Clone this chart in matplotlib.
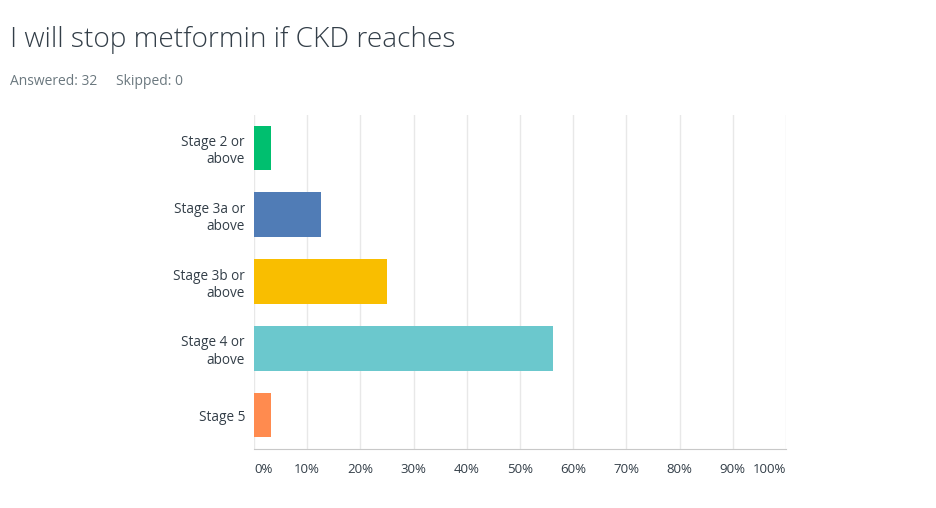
import matplotlib
matplotlib.use('Agg')
import matplotlib.pyplot as plt

# survey answers (share of 32 respondents)
categories = ['Stage 2 or\nabove', 'Stage 3a or\nabove', 'Stage 3b or\nabove',
              'Stage 4 or\nabove', 'Stage 5']
percent = [3.13, 12.5, 25.0, 56.25, 3.13]
colors = ['#00BF6F', '#507CB6', '#F9BE00', '#6BC8CD', '#FF8B4F']
ticks = [0, 10, 20, 30, 40, 50, 60, 70, 80, 90, 100]
tick_labels = [f'{t}%' for t in ticks]

plt.rcParams['font.family'] = ['Open Sans', 'DejaVu Sans']

fig = plt.figure(figsize=(9.36, 5.08), dpi=100)
ax = fig.add_axes([0.2714, 0.1171, 0.5683, 0.6575])

y = list(range(len(categories)))
ax.barh(y, percent, height=0.67, color=colors, zorder=3)
ax.set_ylim(len(categories) - 0.5, -0.5)
ax.set_xlim(0, 100)

ax.set_yticks(y)
ax.set_yticklabels(categories, fontsize=9.8, color='#333E48', ha='right',
                   multialignment='right', linespacing=1.2)
ax.set_xticks(ticks)
ax.set_xticklabels(tick_labels, fontsize=9.5, color='#333E48')
xl = ax.get_xticklabels()
xl[0].set_ha('left')
xl[-1].set_ha('right')
ax.tick_params(axis='both', length=0)
ax.tick_params(axis='x', pad=10.5)
ax.tick_params(axis='y', pad=6.5)

ax.grid(axis='x', color='#E8E8E8', linewidth=1, zorder=0)
for s in ['top', 'right', 'left']:
    ax.spines[s].set_visible(False)
ax.spines['bottom'].set_color('#C8C8C8')

fig.text(0.0107, 0.921, 'I will stop metformin if CKD reaches', fontsize=20.2,
         fontweight='light', color='#333E48', va='center', ha='left')
fig.text(0.0107, 0.839, 'Answered: 32', fontsize=10, color='#6B787F',
         va='center', ha='left')
fig.text(0.124, 0.839, 'Skipped: 0', fontsize=10, color='#6B787F',
         va='center', ha='left')

plt.savefig('out.png', dpi=100)
